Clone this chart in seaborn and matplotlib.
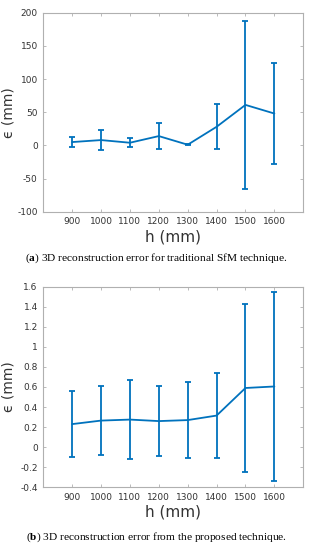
"""
Error de reconstrucción 3D frente a la altura h (dos paneles).
"""
import numpy as np
import pandas as pd
import matplotlib
matplotlib.use("Agg")
import matplotlib.pyplot as plt
import seaborn as sns

# Datos
heights = [900, 1000, 1100, 1200, 1300, 1400, 1500, 1600]

sfm_mean = [5, 8, 4, 14, 1, 28, 61, 48]
sfm_err = [8, 15, 7, 20, 1, 34, 127, 76]

prop_mean = [0.23, 0.265, 0.275, 0.26, 0.27, 0.315, 0.59, 0.605]
prop_err = [0.33, 0.345, 0.39, 0.345, 0.375, 0.42, 0.84, 0.94]

sfm_yticks = [-100, -50, 0, 50, 100, 150, 200]
prop_yticks = [-0.4, -0.2, 0, 0.2, 0.4, 0.6, 0.8, 1, 1.2, 1.4, 1.6]
prop_yticklabels = ["-0.4", "-0.2", "0", "0.2", "0.4", "0.6", "0.8", "1", "1.2", "1.4", "1.6"]

captions = [
    r"($\mathbf{a}$) 3D reconstruction error for traditional SfM technique.",
    r"($\mathbf{b}$) 3D reconstruction error from the proposed technique.",
]

sns.set_style("white")
plt.rcParams.update({
    "font.family": ["DejaVu Sans"],
    "axes.unicode_minus": False,
    "mathtext.fontset": "custom",
    "mathtext.rm": "Liberation Serif",
    "mathtext.bf": "Liberation Serif:bold",
})

BLUE = "#0072BD"
GREY = "#333333"
SPINE = "#b0b0b0"

fig = plt.figure(figsize=(3.09, 5.5), dpi=100)
ax1 = fig.add_axes([0.140, 0.615, 0.8414, 0.362])
ax2 = fig.add_axes([0.140, 0.114, 0.8414, 0.3648])


def draw_panel(ax, mean, err, yticks, ylim, ylabels=None):
    df = pd.DataFrame({"h": heights, "e": mean})
    sns.lineplot(data=df, x="h", y="e", ax=ax, color=BLUE, linewidth=1.3)
    ax.errorbar(heights, mean, yerr=err, fmt="none", ecolor=BLUE,
                elinewidth=1.3, capsize=2, capthick=1.3)
    ax.set_xlim(800, 1700)
    ax.set_ylim(*ylim)
    ax.set_xticks(heights)
    ax.set_yticks(yticks)
    if ylabels is not None:
        ax.set_yticklabels(ylabels)
    ax.tick_params(direction="in", length=2.5, width=0.6, color=SPINE,
                   labelsize=6.5, labelcolor=GREY, top=True, right=True,
                   bottom=True, left=True, pad=4)
    for s in ax.spines.values():
        s.set_color(SPINE)
        s.set_linewidth(0.8)
    ax.set_xlabel("h (mm)", fontsize=11, color=GREY, labelpad=2)
    ax.set_ylabel("\u03f5 (mm)", fontsize=10, color=GREY)
    ax.yaxis.set_label_coords(-0.105, 0.5)


draw_panel(ax1, sfm_mean, sfm_err, sfm_yticks, (-100, 200))
draw_panel(ax2, prop_mean, prop_err, prop_yticks, (-0.4, 1.6), prop_yticklabels)

fig.text(0.505, 1 - 258 / 550, captions[0], ha="center", va="center",
         fontsize=8.2, color="black", family="Liberation Serif")
fig.text(0.505, 1 - 537 / 550, captions[1], ha="center", va="center",
         fontsize=8.2, color="black", family="Liberation Serif")

fig.savefig("out.png", dpi=100)
plt.close(fig)
